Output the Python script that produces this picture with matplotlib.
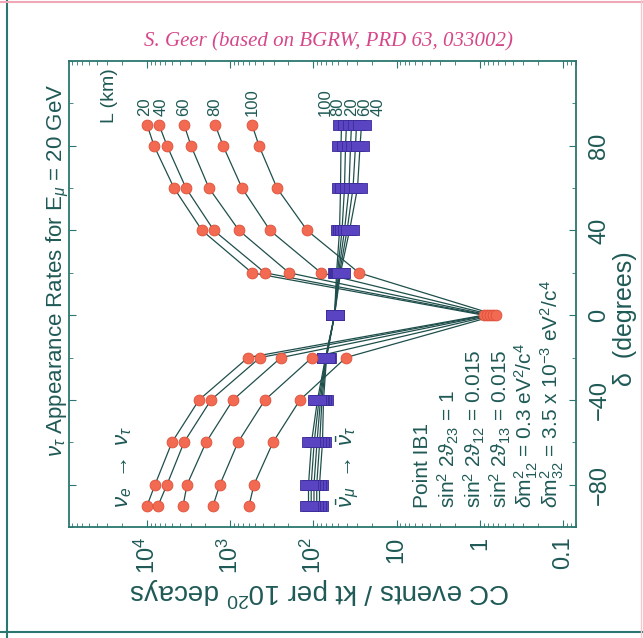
import matplotlib
matplotlib.use("Agg")
import matplotlib.pyplot as plt
from matplotlib.path import Path
from matplotlib.lines import Line2D
from matplotlib.ticker import FixedLocator, NullFormatter, LogLocator

# ---------------- data ----------------
delta_deg = [-90, -80, -60, -40, -20, 0, 20, 40, 60, 80, 90]

# nu_e -> nu_tau  (CC events / kt per 1e20 decays), one list per baseline L (km)
nue_L = [20, 40, 60, 80, 100]
nue_L20 = [10000, 8010, 5010, 2370, 611, 0.90, 547, 2180, 4730, 8240, 10000]
nue_L40 = [7380, 5750, 3590, 1700, 438, 0.83, 382, 1570, 3400, 5750, 7180]
nue_L60 = [3690, 3300, 1950, 925, 245, 0.76, 196, 784, 1800, 2960, 3590]
nue_L80 = [1610, 1330, 806, 382, 104, 0.69, 81, 332, 721, 1220, 1520]
nue_L100 = [594, 518, 306, 145, 40.6, 0.63, 28.3, 119, 274, 451, 547]

# anti-nu_mu -> anti-nu_tau
numu_L = [100, 80, 20, 60, 40]
numu_a = [84.5, 84.5, 77.8, 75.6, 69.5, 55.7, 52.7, 48.5, 47.2, 46.6, 45.9]
numu_b = [91.2, 91.2, 84.0, 78.9, 70.0, 55.7, 51.3, 45.3, 42.3, 41.1, 40.0]
numu_c = [98.4, 98.4, 90.5, 82.2, 70.5, 55.7, 49.9, 42.3, 37.3, 35.8, 34.8]
numu_d = [106.3, 106.3, 97.8, 85.7, 71.0, 55.7, 48.5, 39.4, 33.4, 31.2, 30.3]
numu_e = [114.5, 114.5, 105.4, 89.3, 71.5, 55.7, 47.2, 36.8, 29.5, 27.5, 26.4]

rate_ticks = [1e4, 1e3, 1e2, 10, 1, 0.1]
rate_ticklabels = ["$10^4$", "$10^3$", "$10^2$", "10", "1", "0.1"]
delta_ticks = [-80, -40, 0, 40, 80]
delta_ticklabels = ["\u221280", "\u221240", "0", "40", "80"]

param_lines = [
    "Point IB1",
    r"sin$^2$ 2$\vartheta_{23}$ = 1",
    r"sin$^2$ 2$\vartheta_{12}$ = 0.015",
    r"sin$^2$ 2$\vartheta_{13}$ = 0.015",
    r"$\delta$m$^2_{12}$ = 0.3 eV$^2$/c$^4$",
    r"$\delta$m$^2_{32}$ = 3.5 x 10$^{-3}$ eV$^2$/c$^4$",
]

# ---------------- style ----------------
plt.rcParams["font.family"] = ["Liberation Sans", "DejaVu Sans"]
plt.rcParams["mathtext.fontset"] = "custom"
plt.rcParams["mathtext.rm"] = "Liberation Sans"
plt.rcParams["mathtext.it"] = "Liberation Sans:italic"
plt.rcParams["mathtext.bf"] = "Liberation Sans:bold"
plt.rcParams["mathtext.fallback"] = "stixsans"

TXT = "#1f5a56"
FRAME = "#2b7670"
LINE = "#1f4f4c"
RED = "#f36a52"
RED_E = "#de4e38"
BLUE = "#5a44c2"
BLUE_E = "#3a2d98"

fig = plt.figure(figsize=(6.43, 6.38), dpi=100)
ax = fig.add_axes([69 / 643, 1 - 527 / 638, 507 / 643, 466 / 638])

ax.set_xscale("log")
ax.set_xlim(10 ** (4 + 78 / 83.2), 10 ** (4 - 429 / 83.2))
ax.set_ylim(-100, 120)

rect = Path([(-0.85, -0.5), (0.85, -0.5), (0.85, 0.5), (-0.85, 0.5), (-0.85, -0.5)],
            [Path.MOVETO, Path.LINETO, Path.LINETO, Path.LINETO, Path.CLOSEPOLY])

nue_series = [nue_L20, nue_L40, nue_L60, nue_L80, nue_L100]
numu_series = [numu_a, numu_b, numu_c, numu_d, numu_e]

for s in numu_series:
    ax.plot(s, delta_deg, "-", color=LINE, lw=0.9, zorder=2)
for s in numu_series:
    ax.plot(s, delta_deg, ls="none", marker=rect, ms=12.5, mfc=BLUE, mec=BLUE_E,
            mew=0.6, zorder=3)
for s in nue_series:
    ax.plot(s, delta_deg, "-", color=LINE, lw=0.9, zorder=2)
    ax.plot(s, delta_deg, ls="none", marker="o", ms=7.8, mfc=RED, mec=RED_E,
            mew=0.6, zorder=4)

# curve labels
red_nudge = [-1.5, 1.5, 0, 0, 0]
for L, s, dx in zip(nue_L, nue_series, red_nudge):
    ax.annotate(str(L), (s[-1], delta_deg[-1]), xytext=(dx, 6), textcoords="offset points",
                rotation=90, ha="center", va="bottom", fontsize=12, color=TXT)
for i, (L, s) in enumerate(zip(numu_L, numu_series)):
    ax.annotate(str(L), (s[-1], delta_deg[-1]), xytext=((i - 2) * 6.0, 6),
                textcoords="offset points", rotation=90, ha="center", va="bottom",
                fontsize=12, color=TXT)

# ticks
ax.set_xticks(rate_ticks)
ax.set_xticklabels(rate_ticklabels)
ax.xaxis.set_minor_locator(LogLocator(base=10, subs=range(2, 10), numticks=20))
ax.xaxis.set_minor_formatter(NullFormatter())
ax.set_yticks(delta_ticks)
ax.set_yticklabels(delta_ticklabels)
ax.yaxis.set_minor_locator(FixedLocator(range(-100, 121, 20)))

ax.tick_params(axis="both", which="both", direction="in", colors=FRAME,
               top=True, bottom=True, left=True, right=True,
               labelleft=False, labelright=True, labelcolor=TXT)
ax.tick_params(axis="both", which="major", length=5, width=0.8)
ax.tick_params(axis="both", which="minor", length=3, width=0.6)
ax.tick_params(axis="x", labelsize=17, labelrotation=90, pad=7)
ax.tick_params(axis="y", labelsize=17, labelrotation=90, pad=9)
for lab in ax.get_yticklabels():
    lab.set_va("center")

for sp in ax.spines.values():
    sp.set_color(FRAME)
    sp.set_linewidth(1.3)

ax.set_xlabel("CC events / kt per 10$^{20}$ decays", rotation=180, fontsize=20, color=TXT)
ax.xaxis.set_label_coords(0.495, -0.139)
ax.xaxis.label.set_va("center")
ax.yaxis.set_label_position("right")
ax.set_ylabel("\u03b4  (degrees)", rotation=90, fontsize=18, color=TXT)
ax.yaxis.set_label_coords(1.097, 0.448)
ax.yaxis.label.set_va("center")

def axfrac(px, py):
    return (px - 69) / 507, (527 - py) / 466

x, y = axfrac(58, 270)
ax.text(x, y, r"$\nu_\tau$ Appearance Rates for E$_\mu$ = 20 GeV", transform=ax.transAxes,
        rotation=90, ha="center", va="center", fontsize=16, color=TXT, clip_on=False)

x, y = axfrac(110, 123)
ax.text(x, y, "L (km)", transform=ax.transAxes, rotation=90, ha="center", va="bottom",
        fontsize=14, color=TXT)

x, y = axfrac(123, 508)
ax.text(x, y, r"$\nu_e\ \rightarrow\ \nu_\tau$", transform=ax.transAxes, rotation=90,
        ha="center", va="bottom", fontsize=16, color=TXT)
x, y = axfrac(348, 508)
ax.text(x, y, r"$\bar{\nu}_\mu\ \rightarrow\ \bar{\nu}_\tau$", transform=ax.transAxes,
        rotation=90, ha="center", va="bottom", fontsize=16, color=TXT)

for px, line in zip([422, 448, 474, 500, 526, 552], param_lines):
    x, y = axfrac(px, 508)
    ax.text(x, y, line, transform=ax.transAxes, rotation=90, ha="center", va="bottom",
            fontsize=15, color=TXT)

fig.text(328 / 643, 1 - 42 / 638, "S. Geer (based on BGRW, PRD 63, 033002)",
         ha="center", va="center", fontsize=15, color="#d6478a", style="italic",
         family=["Liberation Serif", "DejaVu Serif"])

# page border
fig.add_artist(Line2D([7 / 643, 7 / 643], [0, 1], transform=fig.transFigure, color=FRAME, lw=1.5))
fig.add_artist(Line2D([0, 1], [1 - 632 / 638] * 2, transform=fig.transFigure, color=FRAME, lw=1.5))
fig.add_artist(Line2D([0, 1], [1 - 1.5 / 638] * 2, transform=fig.transFigure, color="#f0a8b8", lw=1.5))
fig.add_artist(Line2D([641 / 643] * 2, [0, 1], transform=fig.transFigure, color="#f0c8d0", lw=1.0))

fig.savefig("out.png", dpi=100)
